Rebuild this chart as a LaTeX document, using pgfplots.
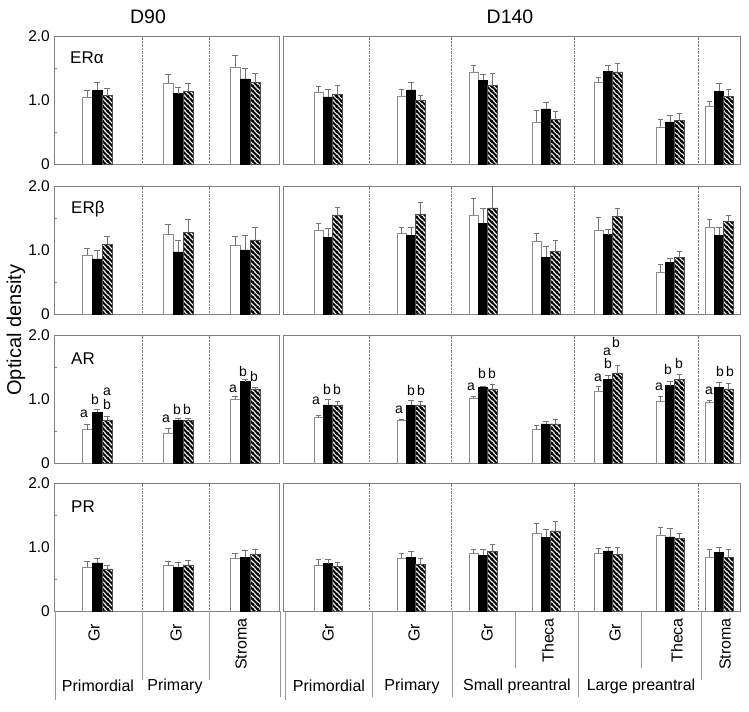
\documentclass[border=0pt]{standalone}
\usepackage{pgfplots}
\pgfplotsset{compat=1.18}
\usepackage{fontspec}
\setmainfont{Liberation Sans}
\usetikzlibrary{patterns}
\newcommand\fs[1]{\fontsize{#1bp}{#1bp}\selectfont}
\definecolor{frame}{gray}{0.5}
\definecolor{ebar}{gray}{0.45}
\pgfdeclarepatternformonly{hatchb}{\pgfpointorigin}{\pgfpoint{5.2bp}{5.2bp}}{\pgfpoint{5.2bp}{5.2bp}}{%
  \pgfsetlinewidth{2.1bp}%
  \pgfpathmoveto{\pgfpoint{-1.5bp}{1.5bp}}\pgfpathlineto{\pgfpoint{1.5bp}{-1.5bp}}%
  \pgfpathmoveto{\pgfpoint{-1.5bp}{6.7bp}}\pgfpathlineto{\pgfpoint{6.7bp}{-1.5bp}}%
  \pgfpathmoveto{\pgfpoint{3.7bp}{6.7bp}}\pgfpathlineto{\pgfpoint{6.7bp}{3.7bp}}%
  \pgfusepath{stroke}}
\pgfplotsset{
  base/.style={scale only axis, height=128bp, ymin=0, ymax=2, xmin=0, clip=false,
    anchor=south west,
    axis line style={draw=frame, line width=0.6bp},
    xtick=\empty, ytick=\empty,
    extra x tick labels={},
    extra x tick style={grid=major, major grid style={densely dotted, draw=frame, line width=0.4bp}, major tick length=0pt}},
  leftp/.style={base, width=225bp, xmax=225, bar width=10bp,
    ytick={0,1,2}, yticklabels={\mbox{0},\mbox{1.0},\mbox{2.0}},
    minor ytick={0.5,1.5}, ytick pos=left, major tick length=0pt, minor tick length=3bp,
    tick style={draw=frame, line width=0.4bp},
    yticklabel style={font=\fs{15.5}, inner sep=4bp},
    extra x ticks={88,155}},
  rightp/.style={base, width=457bp, xmax=457, bar width=9.4bp,
    extra x ticks={86,168,291,415}},
  errs/.style={/pgfplots/error bars/y dir=plus, /pgfplots/error bars/y explicit,
    /pgfplots/error bars/error bar style={draw=ebar, line width=0.5bp, solid},
    /pgfplots/error bars/error mark options={rotate=90, draw=ebar, mark size=2.6bp, line width=0.5bp, solid}},
  wbar/.style={ybar, bar shift=0pt, fill=white, draw=black!45, line width=0.5bp, errs},
  bbar/.style={ybar, bar shift=0pt, fill=black, draw=black, line width=0.5bp, errs},
  hbar/.style={ybar, bar shift=0pt, fill=white, postaction={pattern=hatchb}, draw=black!70, line width=0.5bp, errs},
}
\tikzset{lab/.style={anchor=base west, font=\fs{17}, inner sep=0pt},
  let/.style={anchor=base, font=\fs{14}, inner sep=0pt},
  cat/.style={font=\fs{16}, inner sep=0pt},
  tline/.style={draw=black!40, line width=0.5bp}}
\begin{document}
\begin{tikzpicture}
\useasboundingbox (0,0) rectangle (749bp,712bp);
\node[font=\fs{19.5}] at (148bp,695bp) {D90};
\node[font=\fs{19.5}] at (510bp,695bp) {D140};
\node[font=\fs{20}, rotate=90] at (16bp,382bp) {Optical density};

% ---------- Row 1: ER alpha ----------
\begin{axis}[leftp, at={(54bp,548bp)}]
\addplot[wbar] coordinates {(33,1.05) +- (0,0.11) (114,1.26) +- (0,0.15) (181,1.51) +- (0,0.19)};
\addplot[bbar] coordinates {(43,1.15) +- (0,0.13) (124,1.10) +- (0,0.10) (191,1.33) +- (0,0.17)};
\addplot[hbar] coordinates {(53,1.07) +- (0,0.11) (134,1.14) +- (0,0.12) (201,1.27) +- (0,0.15)};
\node[lab] at (axis cs:16,1.57) {ERα};
\end{axis}
\begin{axis}[rightp, at={(283bp,548bp)}]
\addplot[wbar] coordinates {(35.6,1.12) +- (0,0.10) (118.6,1.06) +- (0,0.11) (190.6,1.43) +- (0,0.11) (253.6,0.66) +- (0,0.18) (315.6,1.28) +- (0,0.08) (377.6,0.57) +- (0,0.13) (426.6,0.91) +- (0,0.07)};
\addplot[bbar] coordinates {(45,1.05) +- (0,0.12) (128,1.16) +- (0,0.11) (200,1.31) +- (0,0.10) (263,0.86) +- (0,0.10) (325,1.45) +- (0,0.09) (387,0.66) +- (0,0.10) (436,1.14) +- (0,0.12)};
\addplot[hbar] coordinates {(54.4,1.09) +- (0,0.14) (137.4,1.00) +- (0,0.08) (209.4,1.23) +- (0,0.19) (272.4,0.70) +- (0,0.12) (334.4,1.44) +- (0,0.13) (396.4,0.68) +- (0,0.11) (445.4,1.06) +- (0,0.11)};
\end{axis}

% ---------- Row 2: ER beta ----------
\begin{axis}[leftp, at={(54bp,398bp)}]
\addplot[wbar] coordinates {(33,0.92) +- (0,0.11) (114,1.24) +- (0,0.16) (181,1.07) +- (0,0.14)};
\addplot[bbar] coordinates {(43,0.86) +- (0,0.13) (124,0.97) +- (0,0.18) (191,1.00) +- (0,0.23)};
\addplot[hbar] coordinates {(53,1.09) +- (0,0.13) (134,1.28) +- (0,0.20) (201,1.16) +- (0,0.19)};
\node[lab] at (axis cs:17,1.57) {ERβ};
\end{axis}
\begin{axis}[rightp, at={(283bp,398bp)}]
\addplot[wbar] coordinates {(35.6,1.31) +- (0,0.11) (118.6,1.26) +- (0,0.10) (190.6,1.54) +- (0,0.27) (253.6,1.13) +- (0,0.13) (315.6,1.31) +- (0,0.20) (377.6,0.66) +- (0,0.12) (426.6,1.36) +- (0,0.12)};
\addplot[bbar] coordinates {(45,1.20) +- (0,0.14) (128,1.23) +- (0,0.12) (200,1.42) +- (0,0.24) (263,0.89) +- (0,0.17) (325,1.24) +- (0,0.09) (387,0.81) +- (0,0.06) (436,1.23) +- (0,0.12)};
\addplot[hbar] coordinates {(54.4,1.55) +- (0,0.12) (137.4,1.56) +- (0,0.18) (209.4,1.66) +- (0,0.33) (272.4,0.98) +- (0,0.17) (334.4,1.52) +- (0,0.13) (396.4,0.88) +- (0,0.10) (445.4,1.45) +- (0,0.10)};
\end{axis}

% ---------- Row 3: AR ----------
\begin{axis}[leftp, at={(54bp,249bp)}]
\addplot[wbar] coordinates {(33,0.52) +- (0,0.09) (114,0.47) +- (0,0.07) (181,0.99) +- (0,0.05)};
\addplot[bbar] coordinates {(43,0.79) +- (0,0.05) (124,0.67) +- (0,0.03) (191,1.27) +- (0,0.04)};
\addplot[hbar] coordinates {(53,0.67) +- (0,0.06) (134,0.67) +- (0,0.03) (201,1.16) +- (0,0.03)};
\node[lab] at (axis cs:17,1.54) {AR};
\node[let] at (axis cs:30,0.71) {a};
\node[let] at (axis cs:41,0.92) {b};
\node[let] at (axis cs:53,1.06) {a};
\node[let] at (axis cs:53,0.84) {b};
\node[let] at (axis cs:112,0.63) {a};
\node[let] at (axis cs:123,0.75) {b};
\node[let] at (axis cs:133,0.75) {b};
\node[let] at (axis cs:179,1.10) {a};
\node[let] at (axis cs:189,1.35) {b};
\node[let] at (axis cs:200,1.27) {b};
\end{axis}
\begin{axis}[rightp, at={(283bp,249bp)}]
\addplot[wbar] coordinates {(35.6,0.72) +- (0,0.02) (118.6,0.67) +- (0,0.02) (190.6,1.01) +- (0,0.04) (253.6,0.52) +- (0,0.07) (315.6,1.12) +- (0,0.08) (377.6,0.97) +- (0,0.07) (426.6,0.95) +- (0,0.03)};
\addplot[bbar] coordinates {(45,0.91) +- (0,0.08) (128,0.90) +- (0,0.08) (200,1.18) +- (0,0.02) (263,0.61) +- (0,0.05) (325,1.31) +- (0,0.06) (387,1.21) +- (0,0.07) (436,1.18) +- (0,0.08)};
\addplot[hbar] coordinates {(54.4,0.90) +- (0,0.07) (137.4,0.90) +- (0,0.06) (209.4,1.16) +- (0,0.07) (272.4,0.61) +- (0,0.07) (334.4,1.41) +- (0,0.12) (396.4,1.31) +- (0,0.08) (445.4,1.16) +- (0,0.09)};
\node[let] at (axis cs:33,0.92) {a};
\node[let] at (axis cs:44,1.07) {b};
\node[let] at (axis cs:54,1.07) {b};
\node[let] at (axis cs:116,0.77) {a};
\node[let] at (axis cs:128,1.05) {b};
\node[let] at (axis cs:138,1.05) {b};
\node[let] at (axis cs:188,1.14) {a};
\node[let] at (axis cs:199,1.32) {b};
\node[let] at (axis cs:209,1.32) {b};
\node[let] at (axis cs:315,1.27) {a};
\node[let] at (axis cs:325,1.47) {b};
\node[let] at (axis cs:324,1.68) {a};
\node[let] at (axis cs:333,1.80) {b};
\node[let] at (axis cs:376,1.14) {a};
\node[let] at (axis cs:385,1.39) {b};
\node[let] at (axis cs:396,1.47) {b};
\node[let] at (axis cs:426,1.07) {a};
\node[let] at (axis cs:437,1.35) {b};
\node[let] at (axis cs:447,1.35) {b};
\end{axis}

% ---------- Row 4: PR ----------
\begin{axis}[leftp, at={(54bp,101bp)}]
\addplot[wbar] coordinates {(33,0.69) +- (0,0.09) (114,0.71) +- (0,0.07) (181,0.82) +- (0,0.09)};
\addplot[bbar] coordinates {(43,0.75) +- (0,0.08) (124,0.68) +- (0,0.08) (191,0.84) +- (0,0.11)};
\addplot[hbar] coordinates {(53,0.66) +- (0,0.06) (134,0.72) +- (0,0.08) (201,0.88) +- (0,0.08)};
\node[lab] at (axis cs:17,1.54) {PR};
\end{axis}
\begin{axis}[rightp, at={(283bp,101bp)}]
\addplot[wbar] coordinates {(35.6,0.72) +- (0,0.09) (118.6,0.83) +- (0,0.07) (190.6,0.90) +- (0,0.07) (253.6,1.22) +- (0,0.15) (315.6,0.90) +- (0,0.08) (377.6,1.19) +- (0,0.12) (426.6,0.84) +- (0,0.12)};
\addplot[bbar] coordinates {(45,0.74) +- (0,0.07) (128,0.84) +- (0,0.09) (200,0.87) +- (0,0.10) (263,1.15) +- (0,0.12) (325,0.94) +- (0,0.06) (387,1.16) +- (0,0.14) (436,0.92) +- (0,0.08)};
\addplot[hbar] coordinates {(54.4,0.70) +- (0,0.06) (137.4,0.73) +- (0,0.10) (209.4,0.93) +- (0,0.12) (272.4,1.25) +- (0,0.15) (334.4,0.89) +- (0,0.11) (396.4,1.14) +- (0,0.07) (445.4,0.84) +- (0,0.13)};
\end{axis}

% ---------- category table ----------
\draw[tline] (55.7bp,101bp) -- (55.7bp,12bp);
\draw[tline] (142bp,101bp) -- (142bp,32bp);
\draw[tline] (209bp,101bp) -- (209bp,32bp);
\draw[tline] (280bp,101bp) -- (280bp,15bp);
\draw[tline] (285bp,101bp) -- (285bp,12bp);
\draw[tline] (372bp,101bp) -- (372bp,15bp);
\draw[tline] (452bp,101bp) -- (452bp,15bp);
\draw[tline] (515bp,101bp) -- (515bp,44bp);
\draw[tline] (578bp,101bp) -- (578bp,15bp);
\draw[tline] (641bp,101bp) -- (641bp,44bp);
\draw[tline] (701bp,101bp) -- (701bp,32bp);

\node[cat, rotate=90, anchor=east] at (94bp,88bp) {Gr};
\node[cat, rotate=90, anchor=east] at (176bp,88bp) {Gr};
\node[cat, rotate=90, anchor=east] at (241bp,94bp) {Stroma};
\node[cat, rotate=90, anchor=east] at (328bp,88bp) {Gr};
\node[cat, rotate=90, anchor=east] at (414bp,88bp) {Gr};
\node[cat, rotate=90, anchor=east] at (487bp,88bp) {Gr};
\node[cat, rotate=90, anchor=east] at (548bp,94bp) {Theca};
\node[cat, rotate=90, anchor=east] at (615bp,88bp) {Gr};
\node[cat, rotate=90, anchor=east] at (677bp,94bp) {Theca};
\node[cat, rotate=90, anchor=east] at (725bp,94bp) {Stroma};

\node[cat] at (98bp,26bp) {Primordial};
\node[cat] at (175bp,26bp) {Primary};
\node[cat] at (329bp,26bp) {Primordial};
\node[cat] at (412bp,26bp) {Primary};
\node[cat] at (517bp,26bp) {Small preantral};
\node[cat] at (641bp,26bp) {Large preantral};
\end{tikzpicture}
\end{document}
